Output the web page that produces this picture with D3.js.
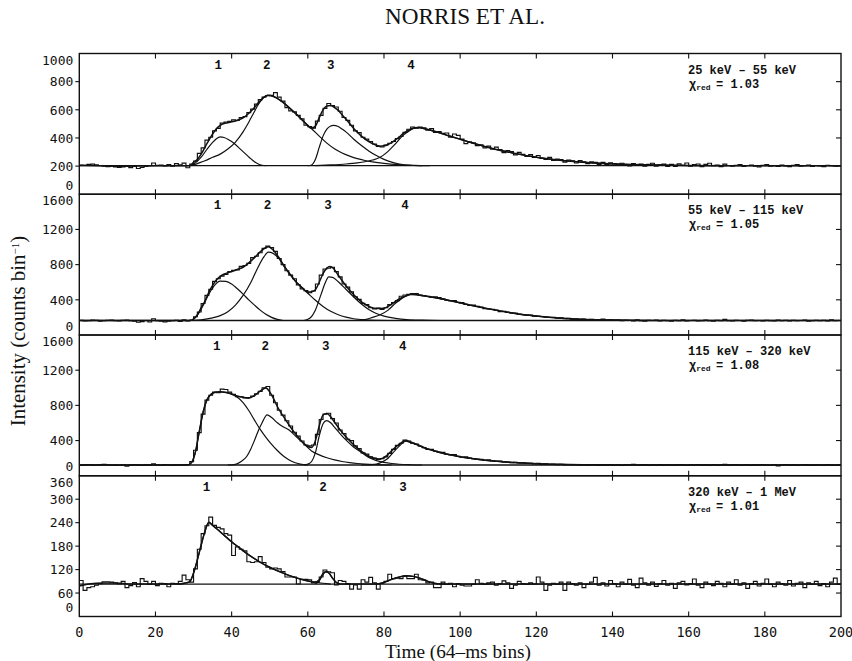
<!DOCTYPE html>
<html><head><meta charset="utf-8">
<script src="https://cdn.jsdelivr.net/npm/d3@7"></script>
<style>body{margin:0;background:#fff}</style>
</head><body>
<svg id="chart" width="852" height="661"></svg>
<script>
// ---------------- data ----------------
const timeTicks = [0,20,40,60,80,100,120,140,160,180,200];
const bandLabels = ["25 keV \u2013 55 keV","55 keV \u2013 115 keV","115 keV \u2013 320 keV","320 keV \u2013 1 MeV"];
const chiRed = ["1.03","1.05","1.08","1.01"];
const yMax = [1000,1600,1600,360];
const yTicks = [[0,200,400,600,800,1000],[0,400,800,1200,1600],[0,400,800,1200,1600],[0,60,120,180,240,300,360]];
const background = [203,165,122,83];
const pulseNames = [["1","2","3","4"],["1","2","3","4"],["1","2","3","4"],["1","2","3"]];
const pulseNameBins = [[36.5,49.2,66,87.1],[36.3,49.4,65.3,85.5],[36.1,48.8,64.7,84.9],[33.4,64,85]];

// binned counts (64-ms bins 0..199)
const counts1 = [207,206,212,214,209,204,201,196,199,195,190,194,200,189,198,183,190,198,204,222,
206,207,201,210,199,218,209,221,188,214,236,290,330,385,405,450,468,505,512,518,
528,524,545,552,580,605,640,672,690,700,702,722,690,662,615,592,585,560,535,490,
480,470,520,560,610,645,630,620,590,545,525,490,450,438,405,392,375,357,340,336,
350,362,375,395,410,440,462,478,470,478,472,455,466,440,445,432,435,405,428,418,
392,360,372,365,345,352,330,342,320,335,318,296,310,304,280,298,284,268,282,262,
275,255,248,262,240,250,246,228,243,238,222,240,231,218,230,226,212,226,210,224,
218,205,220,211,202,218,206,214,200,212,220,200,209,214,198,212,198,216,205,222,
200,210,215,196,212,220,203,208,196,214,204,199,206,211,197,204,208,200,195,206,
210,199,203,197,208,202,196,205,211,200,203,207,198,204,201,196,206,203,199,204];
const counts2 = [168,160,163,170,166,158,162,168,171,164,160,166,170,163,158,145,152,165,148,185,
162,158,150,157,163,167,155,172,160,170,208,262,358,450,520,610,640,670,690,720,
735,740,780,790,815,880,895,935,985,1010,995,950,870,800,730,680,640,570,525,505,
480,500,580,680,750,760,770,720,660,580,545,490,435,405,360,345,310,295,305,290,
310,345,370,390,440,455,462,470,470,455,448,440,430,435,425,410,395,388,392,372,
368,348,335,340,325,318,300,295,292,282,266,270,258,250,248,236,232,225,226,215,
212,210,204,200,200,190,195,186,190,180,182,175,180,170,178,172,170,182,168,172,
166,170,162,168,165,160,172,164,158,168,165,170,160,166,163,158,168,162,172,160,
165,168,160,163,170,162,158,166,164,178,163,160,168,165,158,166,170,162,165,160,
168,164,159,170,163,166,160,168,162,165,170,158,164,168,162,166,160,172,163,165];
const counts3 = [118,124,128,120,122,126,130,125,119,121,117,125,108,120,126,121,118,124,120,135,
123,119,126,122,118,125,121,124,128,160,290,490,700,860,915,950,945,985,980,950,
925,900,898,885,890,905,930,960,1000,1015,915,830,745,690,625,565,495,450,395,350,
340,350,470,640,700,710,650,600,520,480,415,400,340,310,260,245,215,200,185,195,
215,255,300,345,370,405,395,370,360,335,320,300,300,280,270,265,245,240,240,220,
210,215,200,195,190,188,175,180,170,165,168,158,156,150,152,146,148,142,140,136,
140,132,135,128,131,127,130,124,126,122,125,121,124,120,126,122,118,125,121,128,
120,124,117,126,122,130,119,123,126,118,124,121,127,118,125,122,120,126,123,119,
125,122,128,120,123,118,126,121,124,130,120,123,126,119,122,125,118,124,121,126,
122,119,125,112,123,127,120,124,118,122,126,121,118,124,122,119,127,121,116,123];
const counts4 = [92,67,74,76,80,84,89,89,88,86,83,90,74,79,87,76,97,90,82,90,
79,85,84,76,85,84,90,106,94,88,122,172,212,232,254,233,228,224,212,208,
156,178,172,168,140,138,140,153,138,126,122,124,122,115,101,101,101,83,95,95,
94,86,88,101,119,114,112,81,92,90,84,70,81,70,94,88,100,86,70,85,
90,108,97,98,97,103,97,97,108,94,93,86,88,74,74,88,82,85,76,84,
80,78,78,82,94,85,82,86,88,80,84,91,86,72,80,90,84,82,86,83,
101,88,67,80,85,82,88,67,88,84,80,86,74,82,88,100,80,86,78,92,
84,76,88,82,95,80,74,98,86,80,88,77,84,92,80,85,72,86,90,81,
84,96,80,74,88,83,79,90,85,76,88,82,94,80,86,72,84,90,78,85,
96,82,76,88,84,80,92,78,85,88,74,86,82,90,79,84,76,88,98,82];
const countsAll = [counts1,counts2,counts3,counts4];

// total model fit [bin, counts]
const fit1 = [[0,205],[5,203],[10,199],[15,200],[20,202],[28,203],[29,203],[30,226],[30.5,235],[32,285],[33.5,359],[35,428],[36,465],[37,490],[38,503],[39,508],[40,515],[41,521],[42,531],[43,543],[44,563],[45,588],[46,616],[47,650],[48,678],[49.5,703],[51,695],[53,663],[55,618],[57,568],[59,515],[61,470],[62,484],[63,544],[64,600],[65,627],[66,630],[67,616],[68,596],[69,564],[70,534],[72,469],[74,415],[76,374],[78,348],[79,341],[80,344],[81,352],[82,366],[83,386],[84,407],[85,431],[86.5,455],[88,473],[89,474],[91,463],[93,449],[95,433],[97,415],[100,391],[103,366],[106,343],[110,315],[114,292],[118,271],[123,252],[128,237],[132,228],[138,218],[145,211],[152,207],[160,204],[170,203],[200,203]];
const fit2 = [[0,165],[29,165],[30,180],[31,230],[32,310],[33,385],[34,485],[35,565],[36,625],[37,667],[38.5,700],[40,720],[41.5,745],[43,770],[44.5,820],[46,880],[47.5,945],[49,995],[49.7,1004],[51,960],[52.5,875],[54,770],[55.6,676],[57,600],[58.5,538],[60,490],[61,492],[62,515],[63,600],[64,698],[65,760],[65.7,780],[66.5,765],[68,680],[70,560],[72,460],[74,380],[76,325],[78,300],[80,305],[82,350],[84,410],[86,450],[87.5,465],[89,455],[92,435],[95,412],[98,385],[101,355],[104,327],[107,301],[110,277],[113,255],[116,235],[120,215],[124,199],[128,187],[132,178],[138,171],[145,167],[152,165],[200,165]];
const fit3 = [[0,122],[28.5,122],[29.5,152],[30.5,272],[31.5,502],[32.5,722],[33.5,862],[34.5,922],[35.5,947],[37,954],[38.5,947],[40,930],[41.5,907],[43,892],[44.5,882],[46,912],[47.5,962],[49,997],[50,954],[51,877],[52,787],[53.5,680],[55,582],[56.5,490],[58,412],[59,365],[60,332],[61,322],[62,399],[63,567],[64,690],[65,709],[66,672],[67,610],[68.5,521],[70,442],[72,354],[74,280],[76,222],[78,192],[79,191],[80,205],[81,240],[82,283],[83,322],[84.5,375],[85.7,402],[87,383],[89,349],[91,312],[94,272],[97,240],[100,215],[104,190],[108,170],[112,156],[116,146],[120,137],[125,130],[132,125],[140,122],[200,122]];
const fit4 = [[0,78],[3,84],[6,86],[9,86],[12,84],[15,83],[26,83],[28,86],[29,89],[30,111],[31,145],[32,183],[33,218],[34,241],[35,233],[36,225],[38,208],[40,191],[42,176],[44,161],[46,148],[48,136],[50,126],[52,117],[54,109],[56,102],[58,96],[60,91],[62,88],[63,94],[64,110],[64.8,115],[65.5,112],[66.5,98],[67.5,87],[68.5,83],[78,83],[80,87],[82,95],[84,101],[85.7,104],[88,102],[90,96],[92,88],[94,84],[96,83],[200,83]];
const fitAll = [fit1,fit2,fit3,fit4];

// individual pulses [bin, counts above background]
const pulses1 = [
 [[29,0],[30.5,20],[32,60],[33.5,115],[35,165],[36,192],[37,205],[38,200],[39,188],[40,172],[41,150],[42,125],[43,100],[44,75],[45,50],[46,28],[47,12],[48,3],[49,0]],
 [[29.5,0],[31,15],[33,35],[35,60],[37,82],[39,118],[41,168],[43,240],[44,285],[45,335],[46,385],[47,435],[48,472],[49.5,500],[51,492],[53,460],[55,415],[57,365],[59,312],[61,262],[63,210],[65,160],[67,120],[69,90],[71,68],[73,50],[75,37],[77,27],[80,16],[84,7],[88,2],[92,0]],
 [[60,0],[61,5],[62,45],[63,130],[64,210],[65,260],[66,282],[66.7,287],[68,278],[69,260],[70,240],[72,190],[74,145],[76,105],[78,72],[80,45],[82,25],[84,12],[87,3],[90,0]],
 [[62,0],[66,5],[70,12],[73,20],[75,28],[77,40],[79,60],[81,100],[83,155],[85,215],[86.5,245],[88,267],[89,270],[91,260],[93,246],[95,230],[97,212],[100,188],[103,163],[106,140],[110,112],[114,89],[118,68],[123,49],[128,34],[132,25],[138,15],[145,8],[152,4],[160,1],[170,0]]
];
const pulses2 = [
 [[29.5,0],[31,60],[32.5,170],[34,300],[35.5,400],[37,447],[38.5,445],[40,415],[41.5,360],[43,300],[44.5,235],[46,175],[47.5,118],[49,70],[50.5,35],[52,12],[53.5,0]],
 [[29.5,0],[32,8],[35,30],[37,55],[39,100],[41,175],[43,285],[45,430],[46,520],[47,610],[48.5,725],[49.6,776],[51,760],[52.5,700],[54,600],[55.6,510],[57,435],[58.5,370],[60,310],[62,230],[64,160],[66,105],[68,65],[70,38],[72,20],[75,7],[78,2],[81,0]],
 [[59,0],[60.5,25],[62,120],[63.5,300],[64.5,420],[65.5,495],[66.5,490],[68,440],[70,355],[72,270],[74,190],[76,125],[78,80],[80,50],[83,25],[86,10],[90,3],[95,0]],
 [[72,0],[75,10],[77,35],[79,65],[81,115],[83,195],[85,260],[87,295],[89,288],[92,268],[95,245],[98,218],[101,190],[104,162],[107,136],[110,112],[113,90],[116,70],[120,50],[124,34],[128,22],[132,13],[138,6],[145,2],[152,0]]
];
const pulses3 = [
 [[28.5,0],[29.5,30],[30.5,150],[31.5,380],[32.5,600],[33.5,740],[34.5,800],[35.5,825],[37,832],[38.5,825],[40,805],[41.5,770],[43,710],[44.5,620],[46,510],[47.5,405],[49,315],[50.5,235],[52,165],[53.5,105],[55,60],[56.5,28],[58,10],[60,0]],
 [[39,0],[41,8],[42.5,40],[44,100],[45,180],[46,280],[47,390],[48,480],[49.3,570],[50.5,540],[52,480],[53.5,435],[55,400],[57,320],[59,240],[61,160],[63,115],[65,82],[67,58],[69,40],[71,27],[73,17],[75,10],[78,4],[82,0]],
 [[59,0],[60,10],[61,40],[62,140],[63,330],[64,470],[64.9,505],[66,480],[67,430],[68.5,355],[70,285],[72,205],[74,145],[76,85],[78,50],[80,30],[82,17],[84,9],[87,3],[90,0]],
 [[74,0],[77,5],[79,25],[81,75],[83,170],[84.5,235],[85.7,270],[87,255],[89,225],[91,190],[94,150],[97,118],[100,93],[104,68],[108,48],[112,34],[116,24],[120,15],[125,8],[132,3],[140,0]]
];
const pulses4 = [
 [[26,0],[28,3],[29,6],[30,28],[31,62],[32,100],[33,135],[34,158],[35,150],[36,142],[38,125],[40,108],[42,93],[44,78],[46,65],[48,53],[50,43],[52,34],[54,26],[56,19],[58,13],[60,8],[62,5],[64,2],[66,0]],
 [[62,0],[63,8],[64,25],[64.8,31],[65.5,28],[66.5,15],[67.5,4],[68.5,0]],
 [[78,0],[80,4],[82,12],[84,18],[85.7,21],[88,19],[90,13],[92,5],[94,1],[96,0]]
];
const pulsesAll = [pulses1,pulses2,pulses3,pulses4];

// ---------------- drawing ----------------
const svg = d3.select("#chart");
const W = 852, H = 661;
const left = 79.3, right = 841, top0 = 53.5, ph = 140.75;
const x = d3.scaleLinear().domain([0,200]).range([left,right]);
const tickFont = "'DejaVu Sans Mono', monospace";
const labelFont = "'Liberation Mono', 'Courier New', monospace";
const serif = "'Liberation Serif', 'Times New Roman', serif";

svg.append("rect").attr("width",W).attr("height",H).attr("fill","#fff");

const defs = svg.append("defs");

for (let p = 0; p < 4; p++) {
  const top = top0 + p*ph, bottom = top + ph;
  const y = d3.scaleLinear().domain([0,yMax[p]]).range([bottom, top]);
  const g = svg.append("g");
  const clipId = "clip"+p;
  defs.append("clipPath").attr("id",clipId).append("rect")
    .attr("x",left).attr("y",top).attr("width",right-left).attr("height",ph);
  const inner = g.append("g").attr("clip-path",`url(#${clipId})`);

  // background level
  inner.append("line").attr("x1",x(0)).attr("x2",x(200))
    .attr("y1",y(background[p])).attr("y2",y(background[p]))
    .attr("stroke","#111").attr("stroke-width",1.3);

  // pulses
  const pl = d3.line().x(d=>x(d[0])).y(d=>y(background[p]+d[1])).curve(d3.curveMonotoneX);
  pulsesAll[p].forEach(pu => {
    inner.append("path").attr("d",pl(pu)).attr("fill","none")
      .attr("stroke","#111").attr("stroke-width",1.2);
  });

  // histogram
  const c = countsAll[p];
  const steps = c.map((v,i)=>[i,v]).concat([[c.length, c[c.length-1]]]);
  const hl = d3.line().x(d=>x(d[0])).y(d=>y(d[1])).curve(d3.curveStepAfter);
  inner.append("path").attr("d",hl(steps)).attr("fill","none")
    .attr("stroke","#111").attr("stroke-width",1.15);

  // total fit
  const fl = d3.line().x(d=>x(d[0])).y(d=>y(d[1])).curve(d3.curveMonotoneX);
  inner.append("path").attr("d",fl(fitAll[p])).attr("fill","none")
    .attr("stroke","#111").attr("stroke-width",1.5);

  // frame
  g.append("rect").attr("x",left).attr("y",top).attr("width",right-left).attr("height",ph)
    .attr("fill","none").attr("stroke","#111").attr("stroke-width",1.4);

  // x ticks (inward, top and bottom)
  timeTicks.filter(t=>t>0 && t<200).forEach(t=>{
    g.append("line").attr("x1",x(t)).attr("x2",x(t)).attr("y1",top).attr("y2",top+5)
      .attr("stroke","#111").attr("stroke-width",1.1);
    g.append("line").attr("x1",x(t)).attr("x2",x(t)).attr("y1",bottom).attr("y2",bottom-5)
      .attr("stroke","#111").attr("stroke-width",1.1);
  });

  // y ticks and labels
  yTicks[p].forEach(v=>{
    const yy = y(v);
    if (v>0 && v<yMax[p]) {
      g.append("line").attr("x1",left-4).attr("x2",left).attr("y1",yy).attr("y2",yy)
        .attr("stroke","#111").attr("stroke-width",1.1);
      g.append("line").attr("x1",right-5).attr("x2",right).attr("y1",yy).attr("y2",yy)
        .attr("stroke","#111").attr("stroke-width",1.1);
    }
    const cy = Math.min(Math.max(yy, top+6.5), bottom-9);
    g.append("text").attr("x",left-6).attr("y",cy+4.7).attr("text-anchor","end")
      .attr("font-family",tickFont).attr("font-size",13).attr("fill","#111").text(v);
  });

  // pulse numbers
  pulseNames[p].forEach((n,i)=>{
    g.append("text").attr("x",x(pulseNameBins[p][i])).attr("y",top+15)
      .attr("text-anchor","middle").attr("font-family",labelFont).attr("font-weight","bold")
      .attr("font-size",12.5).attr("fill","#111").text(n);
  });

  // band label and chi
  g.append("text").attr("x",688).attr("y",top+20).attr("font-family",labelFont)
    .attr("font-weight","bold").attr("font-size",12).attr("fill","#111").text(bandLabels[p]);
  const chi = g.append("text").attr("x",689).attr("y",top+34).attr("font-family",labelFont)
    .attr("font-weight","bold").attr("font-size",12).attr("fill","#111");
  chi.append("tspan").text("\u03c7");
  chi.append("tspan").attr("font-size",8).attr("dy",2).text("red");
  g.append("text").attr("x",716).attr("y",top+34).attr("font-family",labelFont)
    .attr("font-weight","bold").attr("font-size",12).attr("fill","#111").text("= "+chiRed[p]);
}

// x tick labels
const bottomAll = top0 + 4*ph;
timeTicks.forEach(t=>{
  svg.append("text").attr("x",x(t)).attr("y",bottomAll+20).attr("text-anchor","middle")
    .attr("font-family",tickFont).attr("font-size",13.5).attr("fill","#111").text(t);
});

function fitText(sel, target){
  const len = sel.node().getComputedTextLength();
  const fs = parseFloat(sel.attr("font-size"));
  if (len>0) sel.attr("font-size", (fs*target/len).toFixed(2));
}

// title
const title = svg.append("text").attr("x",465).attr("y",24).attr("text-anchor","middle")
  .attr("font-family",serif).attr("font-size",20).attr("fill","#111").text("NORRIS ET AL.");
fitText(title,160);

// x axis title
const xt = svg.append("text").attr("x",458).attr("y",657.5).attr("text-anchor","middle")
  .attr("font-family",serif).attr("font-size",17).attr("fill","#111").text("Time (64\u2013ms bins)");
fitText(xt,146);

// y axis title
const yt = svg.append("text").attr("transform","translate(25,331) rotate(-90)")
  .attr("text-anchor","middle").attr("font-family",serif).attr("font-size",17).attr("fill","#111");
yt.append("tspan").text("Intensity (counts bin");
yt.append("tspan").attr("font-size",11).attr("dy",-6).text("\u22121");
yt.append("tspan").attr("dy",6).text(")");
fitText(yt,193);
</script>
</body></html>
